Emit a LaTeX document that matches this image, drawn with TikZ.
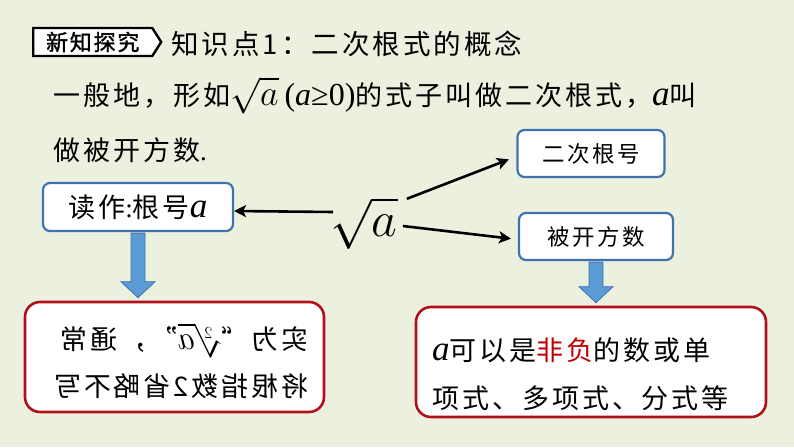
\RequirePackage{fix-cm}
\documentclass[tikz,border=0pt]{standalone}
\usepackage{fontspec}
\usepackage{graphicx}
\setmainfont{Liberation Serif}
\newfontfamily\cjk[LetterSpace=11]{Noto Sans CJK SC}
\newfontfamily\cjktag[LetterSpace=8,FakeBold=1.5]{Noto Sans CJK SC}
\usetikzlibrary{calc,arrows.meta,shapes.symbols}
\definecolor{bgcol}{HTML}{EBF1DE}
\definecolor{boxblue}{HTML}{3F72AF}
\definecolor{arrowfill}{HTML}{5B9BD5}
\definecolor{noteborder}{HTML}{B0101A}
\definecolor{redtext}{HTML}{C00000}
\newcommand\lettera{{\rmfamily\itshape\scalebox{1.3}{a}}}
\newcommand\bluedown[2]{% top anchor, bottom anchor
\filldraw[fill=arrowfill,draw=boxblue,line width=0.8pt]
  ($(#1)+(-7,1)$) -- ($(#1 |- #2)+(-7,-19)$) -- ($(#1 |- #2)+(-17,-19)$)
  -- ($(#1 |- #2)+(0,-3)$) -- ($(#1 |- #2)+(17,-19)$) -- ($(#1 |- #2)+(7,-19)$)
  -- ($(#1)+(7,1)$) -- cycle;}

\begin{document}
\begin{tikzpicture}[x=1pt,y=-1pt,
    bluebox/.style={draw=boxblue,line width=2.2pt,fill=white,rounded corners=7pt},
    notebox/.style={draw=noteborder,line width=2.6pt,fill=white,rounded corners=15pt},
    conn/.style={line width=2.6pt,-{Stealth[length=12pt,width=12pt,inset=3pt]}},
    txt/.style={inner sep=0pt}]
      \useasboundingbox (0,0) rectangle (794,447);
      \fill[bgcol] (0,0) rectangle (794,447);

      \node[signal,signal to=east,signal pointer angle=115,draw=black,fill=white,
            line width=2.4pt,minimum height=28pt,minimum width=128pt,inner xsep=5pt,
            font=\cjktag\fontsize{22}{24}\selectfont] (tag) at (32,42) [anchor=west] {新知探究};
      \node[txt,font=\cjk\fontsize{27.5}{30}\selectfont] (title) at (171,54.5) [anchor=base west] {知识点1：二次根式的概念};

      \node[txt,font=\cjk\fontsize{27}{30}\selectfont] (line1) at (53,105) [anchor=base west]
        {一般地，形如\smash{\fontsize{36}{36}\selectfont$\sqrt{a}$}\hspace{6pt}{\rmfamily\fontsize{32}{32}\selectfont(\textit{a}≥0)}的式子叫做二次根式，\lettera 叫};
      \node[txt,font=\cjk\fontsize{27}{30}\selectfont] (line2) at (53,160) [anchor=base west] {做被开方数{\rmfamily.}};

      \node[bluebox,minimum width=190pt,minimum height=48pt,font=\cjk\fontsize{27}{30}\selectfont]
        (read) at (138,207) {读作{\rmfamily:}根号\lettera};
      \node[bluebox,minimum width=147pt,minimum height=47pt,font=\cjk\fontsize{22.5}{26}\selectfont]
        (root) at (591,153.5) {二次根号};
      \node[bluebox,minimum width=154pt,minimum height=47pt,font=\cjk\fontsize{22.5}{26}\selectfont]
        (radicand) at (596,236.5) {被开方数};

      \node[txt] (sq) at (364,223) {\fontsize{50}{50}\selectfont$\sqrt{a}$};

      \draw[conn] ([xshift=3pt,yshift=11pt]sq.west) -- ([yshift=-4pt]read.east);
      \draw[conn,shorten >=8pt] ([xshift=9pt,yshift=-2pt]sq.north east) -- ([yshift=-3pt]root.west);
      \draw[conn,shorten >=7pt] ([xshift=5pt,yshift=-3pt]sq.east) -- ([yshift=-3pt]radicand.west);

      \node[notebox,minimum width=299pt,minimum height=110pt] (noteL) at (174.5,357) {};
      \node[notebox,minimum width=350pt,minimum height=110pt] (noteR) at (591,362) {};

      \bluedown{read.south}{noteL.north}
      \bluedown{radicand.south}{noteR.north}

      \node[txt] (noteLtext) at (309,363.5) [anchor=east]
        {\reflectbox{\cjk\fontsize{27}{47}\selectfont\begin{tabular}{@{}l@{}}实为“{\fontsize{34}{34}\selectfont$\sqrt[2]{a}$}”，通常\\将根指数2省略不写\end{tabular}}};
      \node[txt,align=left,font=\cjk\fontsize{27}{48}\selectfont] (noteRtext) at (432,374) [anchor=west]
        {\lettera 可以是\textcolor{redtext}{非负}的数或单\\项式、多项式、分式等};
\end{tikzpicture}
\end{document}
